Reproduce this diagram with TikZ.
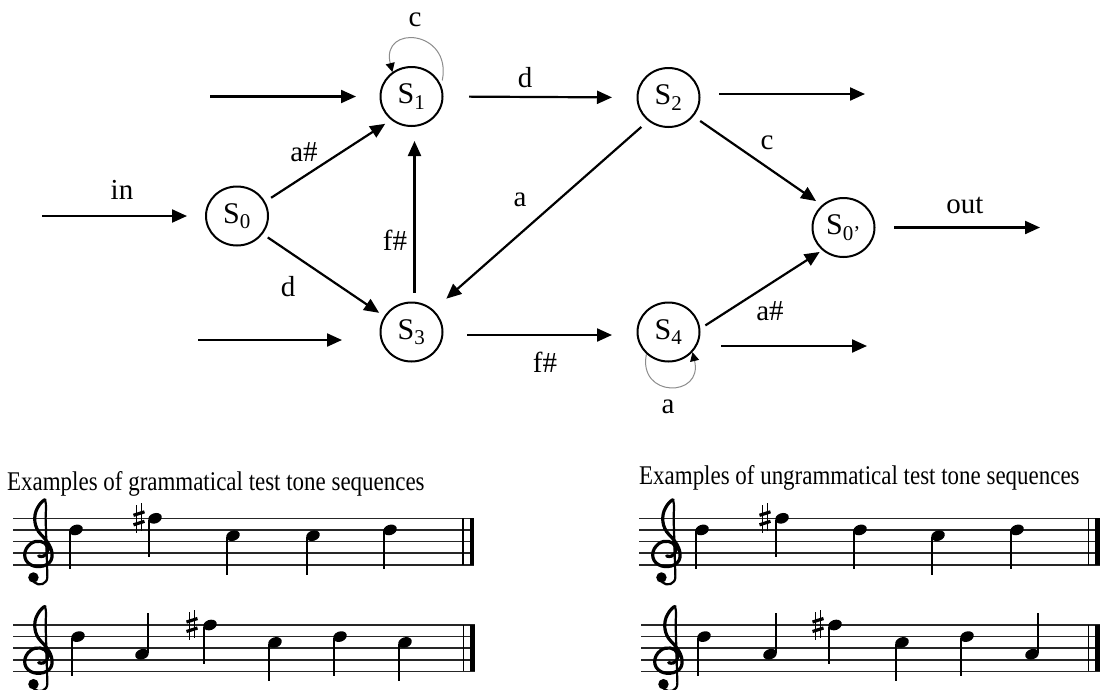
\documentclass[tikz,border=0pt]{standalone}
\usepackage{fontspec}
\setmainfont{Liberation Serif}
\newfontfamily\capfont[FakeStretch=0.85]{Liberation Serif}
\usetikzlibrary{arrows.meta,shapes.geometric}

\newcommand\mystaff[3]{%
  \foreach \i in {0,...,4} {\draw[staffline] (#1,#3+11.6*\i) -- (#2,#3+11.6*\i);}}
\newcommand\notedn[2]{%
  \fill[rotate around={20:(#1,#2)}] (#1,#2) ellipse [x radius=7, y radius=5.1];
  \draw[line width=2pt] (#1-6.1,#2+1.5) -- (#1-6.1,#2+39);}
\newcommand\noteup[2]{%
  \fill[rotate around={20:(#1,#2)}] (#1,#2) ellipse [x radius=7, y radius=5.1];
  \draw[line width=2pt] (#1+6.1,#2-1.5) -- (#1+6.1,#2-41);}
\newcommand\mysharp[2]{%
  \draw[line width=1.4pt] (#1-2.5,#2-13) -- (#1-2.5,#2+15) (#1+2.5,#2-15) -- (#1+2.5,#2+13);
  \draw[line width=3.2pt] (#1-5.5,#2-3) -- (#1+5.5,#2-6.5) (#1-5.5,#2+6.5) -- (#1+5.5,#2+3);}
\newcommand\mybars[4]{% thin x, thick x, thick width, top y
  \draw[line width=1.6pt] (#1,#4) -- (#1,#4+46.4);
  \draw[line width=#3] (#2,#4) -- (#2,#4+46.4);}

\tikzset{
  state/.style={ellipse, draw, line width=2pt, minimum width=62pt, minimum height=59pt,
    inner sep=0pt, font=\fontsize{30}{32}\selectfont},
  arr/.style={line width=2.2pt, -{Triangle[length=15pt,width=13pt]}},
  loopy/.style={draw=black!45, line width=1pt, -{Triangle[length=9pt,width=9pt,color=black]}},
  lab/.style={font=\fontsize{29}{31}\selectfont, inner sep=0pt},
  captext/.style={font=\capfont\fontsize{27}{29}\selectfont, inner sep=0pt, anchor=base west},
  staffline/.style={line width=1.6pt, black!85},
  treble/.pic={
    \begin{scope}[scale=11.6]
      \draw[line width=3.2pt, line cap=round, line join=round]
        (0.1,0.25) .. controls (0.7,0.45) and (1.0,-0.1) .. (0.85,-0.55)
        .. controls (0.7,-1.05) and (-0.1,-1.2) .. (-0.6,-0.8)
        .. controls (-1.25,-0.3) and (-1.3,0.6) .. (-0.6,1.0)
        .. controls (0.0,1.35) and (1.15,1.15) .. (1.25,0.35)
        .. controls (1.35,-0.4) and (0.8,-1.1) .. (0.3,-1.6)
        .. controls (-0.3,-2.2) and (-0.4,-3.2) .. (0.0,-3.9)
        .. controls (0.2,-4.3) and (0.55,-4.6) .. (0.65,-4.6);
      \draw[line width=2.2pt, line cap=round]
        (0.65,-4.6) .. controls (0.8,-4.2) and (0.7,-3.5) .. (0.7,-3.0)
        -- (0.85,2.0) .. controls (0.88,2.7) and (0.1,2.9) .. (-0.3,2.5);
      \fill (-0.35,2.1) circle [radius=0.45];
    \end{scope}}
}

\begin{document}
\begin{tikzpicture}[x=1pt,y=-1pt]
\useasboundingbox (0,0) rectangle (1100,689);
\fill[white] (0,0) rectangle (1100,689);

% states
\node[state] (S0) at (237,216) {S\textsubscript{0}};
\node[state] (S1) at (411.5,96.5) {S\textsubscript{1}};
\node[state] (S2) at (668.5,97.5) {S\textsubscript{2}};
\node[state] (S3) at (411.5,332) {S\textsubscript{3}};
\node[state] (S4) at (668.5,332) {S\textsubscript{4}};
\node[state] (S0p) at (843.5,227.5) {S\textsubscript{0'}};

% free ends
\coordinate (inS) at (42,216);
\coordinate (in1) at (210,96.5);
\coordinate (in3) at (198,340);
\coordinate (o2) at (865,94);
\coordinate (o4) at (867,346);
\coordinate (oo) at (1040,227.5);

% connectors
\draw[arr, shorten >=18pt] (inS) -- (S0.west);
\draw[arr, shorten >=23.5pt] (in1) -- (S1.west);
\draw[arr, shorten >=37.5pt] (in3) -- ([yshift=-8pt]S3.west);
\draw[arr, shorten <=7pt, shorten >=7pt] (S0.27) -- (S1.229);
\draw[arr, shorten <=6pt, shorten >=6pt] (S0.-35) -- (S3.150);
\draw[arr, shorten <=9pt, shorten >=14pt] ([xshift=3pt]S3.north) -- ([xshift=3pt]S1.south);
\draw[arr, shorten <=25.5pt, shorten >=24.5pt] (S1.east) -- (S2.west);
\draw[arr, shorten <=18.5pt] ([yshift=3.5pt]S2.east) -- (o2);
\draw[arr, shorten <=9pt, shorten >=17pt] (S2.229) -- (S3.45);
\draw[arr, shorten <=8pt, shorten >=7pt] (S2.-37) -- (S0p.134);
\draw[arr, shorten <=23.5pt, shorten >=24.5pt] ([yshift=-3pt]S3.east) -- ([yshift=-3pt]S4.west);
\draw[arr, shorten <=20.5pt] ([yshift=-14pt]S4.east) -- (o4);
\draw[arr, shorten <=6pt, shorten >=3pt] (S4.6) -- (S0p.227);
\draw[arr, shorten <=18.5pt] (S0p.east) -- (oo);

% self loops
\draw[loopy] ([shift={(5pt,-2pt)}]S1.35) .. controls +(10,-51) and +(-12,-48) .. (S1.128);
\draw[loopy] (S4.225) .. controls +(-9,44) and +(11,46) .. (S4.-40);

% labels
\node[lab] (Lin) at (122,190) {in};
\node[lab] (Lab01) at (304,152) {a\#};
\node[lab] (Ld03) at (288,287) {d};
\node[lab] (Lf31) at (395,240) {f\#};
\node[lab] (Lc11) at (415,20) {c};
\node[lab] (Ld12) at (525,78) {d};
\node[lab] (La23) at (520,200) {a};
\node[lab] (Lc20) at (767,143) {c};
\node[lab] (Lout) at (965,205) {out};
\node[lab] (Lf34) at (545,362) {f\#};
\node[lab] (La40) at (770,311) {a\#};
\node[lab] (La44) at (668,407) {a};

% captions
\node[captext] (CapL) at (7,490) {Examples of grammatical test tone sequences};
\node[captext] (CapR) at (639,484.5) {Examples of ungrammatical test tone sequences};

% staves
\mystaff{13}{474}{518.3}
\mystaff{13}{475}{625}
\mystaff{639}{1100}{518.3}
\mystaff{641}{1100}{625}
\mybars{463}{472}{4.5pt}{518.3}
\mybars{463.5}{472.5}{4.5pt}{625}
\mybars{1088.5}{1097.5}{5pt}{518.3}
\mybars{1088.5}{1097.5}{5pt}{625}
\pic at (37.5,553.1) {treble};
\pic at (37.5,659.8) {treble};
\pic at (665.5,553.1) {treble};
\pic at (667.5,659.8) {treble};

% grammatical 1: d f# c c d
\notedn{76}{529.9}
\mysharp{139}{518.3}\notedn{155}{518.3}
\notedn{233}{535.7}
\notedn{313}{535.7}
\notedn{390}{529.9}
% grammatical 2: d a f# c d c
\notedn{78}{636.6}
\noteup{142}{654.2}
\mysharp{192}{625}\notedn{210}{625}
\notedn{275}{642.4}
\notedn{340}{636.6}
\notedn{405}{642.4}
% ungrammatical 1: d f# d c d
\notedn{702}{529.9}
\mysharp{765}{518.3}\notedn{782}{518.3}
\notedn{860}{529.9}
\notedn{938}{535.7}
\notedn{1017}{529.9}
% ungrammatical 2: d a f# c d a
\notedn{704}{636.6}
\noteup{770}{654.2}
\mysharp{818}{625}\notedn{835}{625}
\notedn{902}{642.4}
\notedn{967}{636.6}
\noteup{1032}{654.2}
\end{tikzpicture}
\end{document}
